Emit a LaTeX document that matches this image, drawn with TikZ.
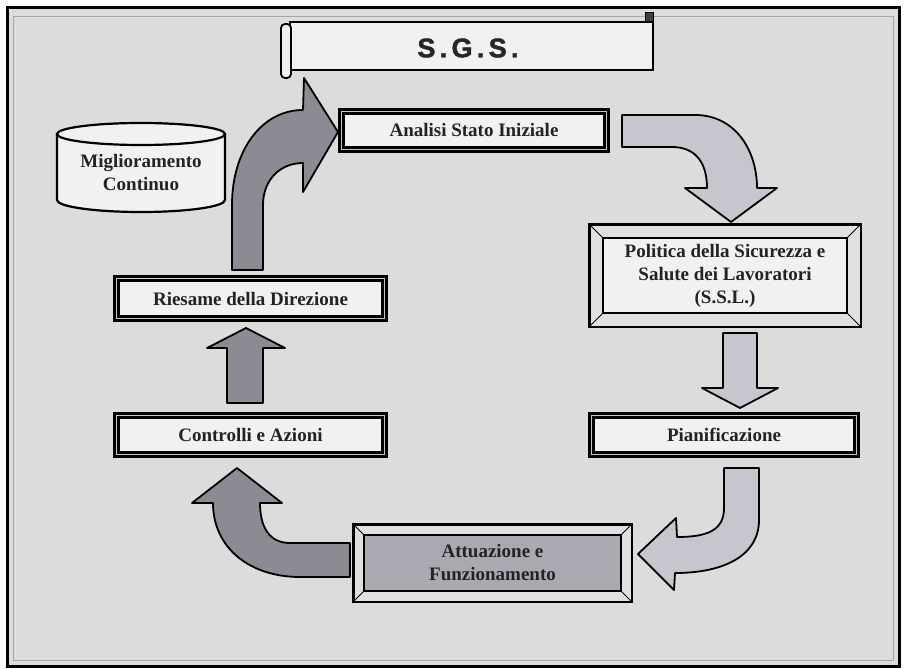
\documentclass[tikz,border=0pt]{standalone}
\usepackage{fontspec}
\setmainfont{Liberation Serif}
\newfontfamily\sgsfont[LetterSpace=16, FakeBold=1.5]{Liberation Sans Bold}
\definecolor{sfondo}{RGB}{220,220,220}
\definecolor{scura}{RGB}{139,139,147}
\definecolor{chiara}{RGB}{198,198,206}
\definecolor{riempi}{RGB}{241,241,241}
\definecolor{attuaz}{RGB}{169,169,177}
\definecolor{banda}{RGB}{224,224,226}
\definecolor{testo}{RGB}{35,35,35}

\tikzset{
  etichetta/.style={text=testo, font=\fontsize{19}{23}\selectfont\bfseries, align=center},
  doppio/.style={etichetta, draw=black, line width=2.3pt, double=gray!45, double distance=1.6pt, fill=riempi, inner sep=0pt},
  smussato/.style 2 args={etichetta, draw=black, line width=2.5pt, fill=banda, inner sep=0pt,
    path picture={
      \coordinate (so) at (path picture bounding box.north west);
      \coordinate (se) at (path picture bounding box.south east);
      \coordinate (ino) at ([shift={(#2,-#2)}]so);
      \coordinate (ise) at ([shift={(-#2,#2)}]se);
      \filldraw[fill=#1, line width=1.6pt] (ino) rectangle (ise);
      \draw[line width=1pt] (so) -- (ino) (se) -- (ise)
        (so |- se) -- (ino |- ise) (se |- so) -- (ise |- ino);
    }},
  freccia/.style={fill=#1, draw=black, line width=1.8pt, line join=round},
}

\begin{document}
\begin{tikzpicture}[x=1pt, y=-1pt]
    \useasboundingbox (0,0) rectangle (905,669) ;
    \fill[white] (0,0) rectangle (905,669) ;
    % cornice
    \filldraw[fill=sfondo, line width=3pt] (7,8) rectangle (899,666) ;
    \draw[gray!70, line width=1pt] (13,17) rectangle (893,660) ;

    % titolo a pergamena
    \filldraw[fill=riempi, line width=1.8pt] (290,22) rectangle (653,70) ;
    \filldraw[fill=black!75, line width=1pt] (645,13) rectangle (653,22) ;
    \filldraw[fill=riempi, line width=1.8pt, rounded corners=4pt] (281,24) rectangle (291,78) ;
    \node[font=\sgsfont\fontsize{27}{30}\selectfont, text=black!85] (sgs) at (468,48) {S.G.S.} ;

    % riquadri
    \node[doppio, minimum width=265pt, minimum height=38pt] (analisi) at (474,130.5) {Analisi Stato Iniziale} ;
    \node[smussato={riempi}{14pt}, minimum width=271.5pt, minimum height=102.5pt] (politica) at (725,275.5)
        {Politica della Sicurezza e\\Salute dei Lavoratori\\(S.S.L.)} ;
    \node[doppio, minimum width=265pt, minimum height=39pt] (pianif) at (724,435) {Pianificazione} ;
    \node[smussato={attuaz}{11pt}, minimum width=278.5pt, minimum height=77.5pt] (attuaz) at (492.5,563)
        {Attuazione e\\Funzionamento} ;
    \node[doppio, minimum width=268pt, minimum height=39pt] (controlli) at (250.5,435) {Controlli e Azioni} ;
    \node[doppio, minimum width=268pt, minimum height=40pt] (riesame) at (250.5,298.5) {Riesame della Direzione} ;

    % cilindro
    \filldraw[fill=riempi, line width=2.2pt] (57,134) -- (57,200)
        arc[start angle=180, end angle=360, x radius=84pt, y radius=12pt] -- (225,134) ;
    \filldraw[fill=riempi, line width=2.2pt] (141,134) ellipse [x radius=84pt, y radius=11pt] ;
    \node[etichetta] (miglior) at (141,173) {Miglioramento\\Continuo} ;

    % frecce
    \draw[freccia=scura] (232,270) -- (232,205) .. controls (232,150) and (262,110) .. (303,110)
        -- (304,78) -- (338,132) -- (303,192) -- (303,163)
        .. controls (280,163) and (263,180) .. (263,205) -- (263,270) -- cycle ;
    \draw[freccia=chiara] (622,115) -- (695,115) .. controls (735,115) and (757,150) .. (757,188)
        -- (777,188) -- (731,222) -- (685,188) -- (707,188)
        .. controls (707,162) and (695,147) .. (672,147) -- (622,147) -- cycle ;
    \draw[freccia=chiara] (723,333) -- (757,333) -- (757,388) -- (778,388) -- (740,408)
        -- (702,388) -- (723,388) -- cycle ;
    \draw[freccia=chiara] (724,468) -- (759,468) -- (759,520) .. controls (759,555) and (725,573) .. (675,573)
        -- (674,590) -- (638,554) -- (676,518) -- (677,537)
        .. controls (708,537) and (724,530) .. (724,508) -- cycle ;
    \draw[freccia=scura] (350,543) -- (290,543) .. controls (270,543) and (260,528) .. (260,503)
        -- (282,503) -- (237,468) -- (192,503) -- (213,503)
        .. controls (213,548) and (250,577) .. (300,577) -- (350,577) -- cycle ;
    \draw[freccia=scura] (227,403) -- (227,348) -- (207,348) -- (246,328) -- (285,348)
        -- (263,348) -- (263,403) -- cycle ;

\end{tikzpicture}
\end{document}
